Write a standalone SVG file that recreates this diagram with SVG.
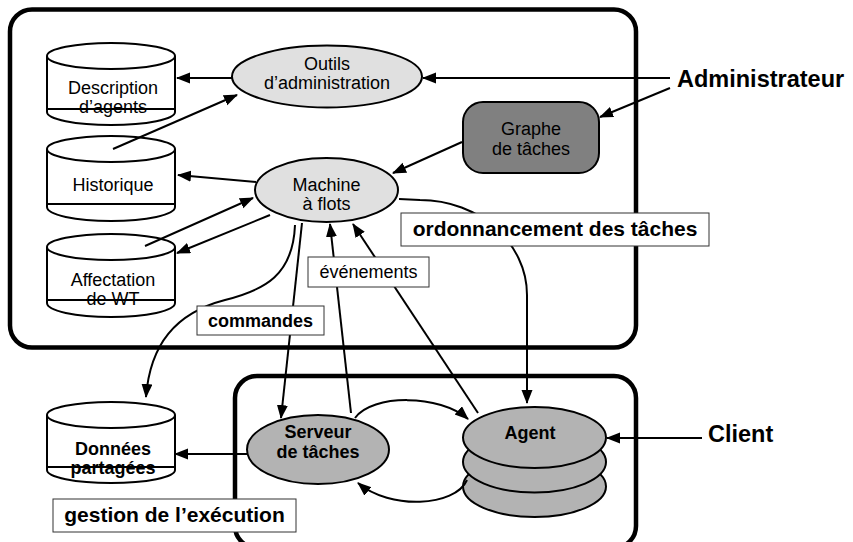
<svg xmlns="http://www.w3.org/2000/svg" width="853" height="542" viewBox="0 0 853 542">
<defs>
<marker id="ah" markerUnits="userSpaceOnUse" markerWidth="16" markerHeight="12" refX="13" refY="5.5" orient="auto">
<path d="M0,0 L14,5.5 L0,11 z" fill="#000"/>
</marker>
<style>
text{font-family:"Liberation Sans",Arial,Helvetica,sans-serif;fill:#000;text-anchor:middle}
.r{font-size:18px}
.b{font-size:18px;font-weight:bold}
.lb{font-size:21px;font-weight:bold}
.actor{font-size:23.5px;font-weight:bold;text-anchor:start}
.box{fill:none;stroke:#000;stroke-width:4.5}
.cyl{fill:#fff;stroke:#000;stroke-width:2}
.light{fill:#e0e0e0;stroke:#000;stroke-width:2}
.mid{fill:#b3b3b3;stroke:#000;stroke-width:2}
.dark{fill:#808080;stroke:#000;stroke-width:2}
.c{fill:none;stroke:#000;stroke-width:2;marker-end:url(#ah)}
.lbl{fill:#fff;stroke:#333;stroke-width:1}
</style>
</defs>
<rect width="853" height="542" fill="#fff"/>

<g id="container-top"><rect class="box" x="10" y="9.5" width="626" height="338" rx="22"/></g>
<g id="container-bottom"><rect class="box" x="235" y="376" width="401" height="172" rx="22"/></g>

<g id="n-description">
<path class="cyl" d="M47,56 L47,112 A64,13 0 0 0 175,112 L175,56"/>
<ellipse class="cyl" cx="111" cy="56" rx="64" ry="13"/>
<text class="r" x="113" y="94">Description</text>
<text class="r" x="113" y="113">d’agents</text>
<line x1="47" y1="109" x2="175" y2="109" stroke="#000" stroke-width="2"/>
</g>

<g id="n-historique">
<path class="cyl" d="M47,149 L47,207 A64,14 0 0 0 175,207 L175,149"/>
<ellipse class="cyl" cx="111" cy="149" rx="64" ry="13"/>
<text class="r" x="113" y="191">Historique</text>
<line x1="47" y1="204" x2="175" y2="204" stroke="#000" stroke-width="2"/>
</g>

<g id="n-affectation">
<path class="cyl" d="M47,247 L47,303 A64,14 0 0 0 175,303 L175,247"/>
<ellipse class="cyl" cx="111" cy="247" rx="64" ry="13"/>
<text class="r" x="113" y="286">Affectation</text>
<text class="r" x="113" y="305">de WT</text>
<line x1="47" y1="300" x2="175" y2="300" stroke="#000" stroke-width="2"/>
</g>

<g id="n-donnees">
<path class="cyl" d="M47,415 L47,470 A64,13 0 0 0 175,470 L175,415"/>
<ellipse class="cyl" cx="111" cy="415" rx="64" ry="13"/>
<text class="b" x="113" y="455">Données</text>
<text class="b" x="113" y="474">partagées</text>
<line x1="47" y1="467" x2="175" y2="467" stroke="#000" stroke-width="2"/>
</g>

<g id="n-outils">
<ellipse class="light" cx="327" cy="76.5" rx="95" ry="31"/>
<text class="r" x="327" y="70">Outils</text>
<text class="r" x="327" y="89">d’administration</text>
</g>

<g id="n-machine">
<ellipse class="light" cx="326.5" cy="190" rx="71.5" ry="32"/>
<text class="r" x="326.5" y="191">Machine</text>
<text class="r" x="326.5" y="210">à flots</text>
</g>

<g id="n-graphe">
<rect class="dark" x="463" y="102" width="136" height="71" rx="20"/>
<text class="r" x="531" y="135">Graphe</text>
<text class="r" x="531" y="155">de tâches</text>
</g>

<g id="n-serveur">
<ellipse class="mid" cx="318" cy="449.5" rx="71" ry="34.5"/>
<text class="b" x="318" y="438">Serveur</text>
<text class="b" x="318" y="458">de tâches</text>
</g>

<g id="n-agent">
<ellipse class="mid" cx="534.5" cy="486.5" rx="71.5" ry="30.5"/>
<ellipse class="mid" cx="534.5" cy="462" rx="71.5" ry="30.5"/>
<ellipse class="mid" cx="534.5" cy="437.5" rx="71.5" ry="30.5"/>
<text class="b" x="530" y="439">Agent</text>
</g>

<g id="n-administrateur"><text class="actor" x="677" y="87">Administrateur</text></g>
<g id="n-client"><text class="actor" x="708" y="442">Client</text></g>

<g id="connectors">
<path class="c" d="M670,78 L423,78"/>
<path class="c" d="M670,88 L600,117"/>
<path class="c" d="M462,142 L393,173"/>
<path class="c" d="M232,78 L177,78"/>
<path class="c" d="M113,149 L237,95"/>
<path class="c" d="M256,182 L178,175"/>
<path class="c" d="M145,246 L253,198"/>
<path class="c" d="M270,215 L177,253"/>
<path class="c" d="M295,225 C293,275 265,290 225,300 C175,313 150,345 146,397"/>
<path class="c" d="M302,223 L281,418"/>
<path class="c" d="M351,413 L330,224"/>
<path class="c" d="M478,413 L353,224"/>
<path class="c" d="M399,199 L420,200 C479,200 527,243 527,295 L527,403"/>
<path class="c" d="M247,454 L175,454"/>
<path class="c" d="M355,418 C372,394 440,394 468,419"/>
<path class="c" d="M467,480 C455,507 390,510 358,483"/>
<path class="c" d="M702,438 L607,438"/>
</g>

<g id="labels">
<g id="l-ordonnancement"><rect class="lbl" x="401" y="213" width="308" height="33"/><text class="lb" x="555" y="236">ordonnancement des tâches</text></g>
<g id="l-evenements"><rect class="lbl" x="308" y="257" width="121" height="30"/><text class="r" x="368.5" y="278">événements</text></g>
<g id="l-commandes"><rect class="lbl" x="197" y="306" width="127" height="29"/><text class="b" x="260.5" y="327">commandes</text></g>
<g id="l-gestion"><rect class="lbl" x="53" y="499" width="243" height="33"/><text class="lb" x="174.5" y="522">gestion de l’exécution</text></g>
</g>
</svg>
